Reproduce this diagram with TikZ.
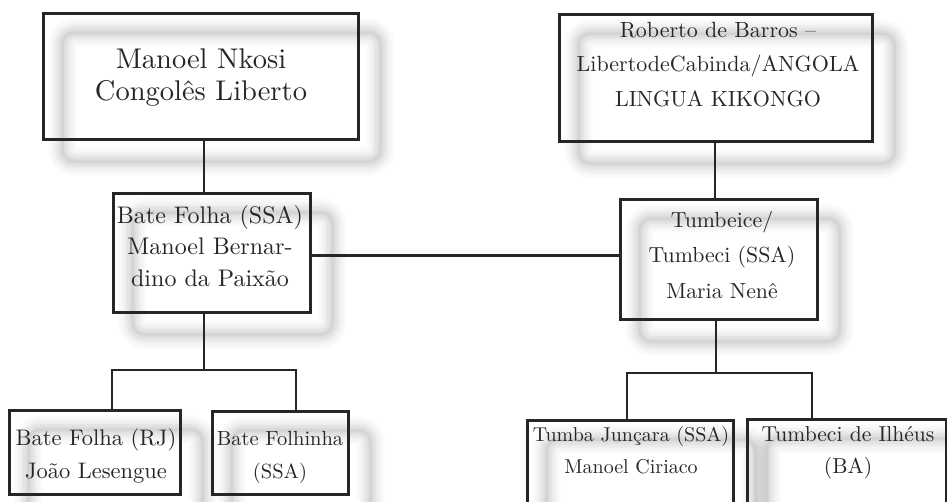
\documentclass[tikz,border=0pt]{standalone}
\usepackage{fontspec}
\setmainfont{lmroman10-regular.otf}
\usetikzlibrary{calc}
\pgfdeclarelayer{bg}
\pgfsetlayers{bg,main}
\newcommand\glowframe[1]{%
  \begin{pgfonlayer}{bg}
  \foreach \w/\o in {28/0.02,22/0.025,16/0.03,11/0.035,6/0.035,2.5/0.035}{
    \draw[line width=\w pt, black, draw opacity=\o, rounded corners=12pt]
      ([shift={(21pt,-21pt)}]#1.north west) rectangle ([shift={(21pt,-21pt)}]#1.south east);
  }
  \end{pgfonlayer}}
\tikzset{
  box/.style={draw=black!85, line width=3pt, rectangle, inner sep=0pt, fill=none},
  txt/.style={align=center, anchor=base, inner sep=0pt, text=black!85},
  conn/.style={draw=black!85, line width=2.8pt}
}
\begin{document}
\begin{tikzpicture}[x=1pt,y=-1pt]
\useasboundingbox (0,0) rectangle (947,501);
% boxes
\node[box, minimum width=315pt, minimum height=126pt] (A) at (200.5,76) {};
\node[box, minimum width=313pt, minimum height=127pt] (B) at (715.5,77.5) {};
\node[box, minimum width=197pt, minimum height=119pt] (C) at (211.5,252.5) {};
\node[box, minimum width=197pt, minimum height=120pt] (D) at (718.5,259) {};
\node[box, minimum width=171pt, minimum height=84pt] (E) at (94.5,452) {};
\node[box, minimum width=136pt, minimum height=83pt] (F) at (280,452.5) {};
\node[box, minimum width=206pt, minimum height=120pt] (G) at (630,480) {};
\node[box, minimum width=199pt, minimum height=121pt] (H) at (846.5,479.5) {};
\glowframe{A}\glowframe{B}\glowframe{C}\glowframe{D}
\glowframe{E}\glowframe{F}\glowframe{G}\glowframe{H}
% texts (base = baseline of last line)
\node[txt, font=\fontsize{28.5}{32}\selectfont] (At) at (201,100) {Manoel Nkosi\\Congolês Liberto};
\node[txt, font=\fontsize{22}{34.5}\selectfont] (Bt) at (718,106) {Roberto de Barros --\\LibertodeCabinda/ANGOLA\\LINGUA KIKONGO};
\node[txt, font=\fontsize{24}{31.5}\selectfont] (Ct) at (210,286) {Bate Folha (SSA)\\Manoel Bernar-\\dino da Paixão};
\node[txt, font=\fontsize{21.8}{35.5}\selectfont] (Dt) at (722,298) {Tumbeice/\\Tumbeci (SSA)\\Maria Nenê};
\node[txt, font=\fontsize{22.5}{33}\selectfont] (Et) at (96,478) {Bate Folha (RJ)\\João Lesengue};
\node[txt, font=\fontsize{20.5}{33}\selectfont] (Ft) at (280,478) {Bate Folhinha\\(SSA)};
\node[txt, font=\fontsize{20}{32}\selectfont] (Gt) at (631,473) {Tumba Junçara (SSA)\\Manoel Ciriaco};
\node[txt, font=\fontsize{21.6}{32}\selectfont] (Ht) at (848,473) {Tumbeci de Ilhéus\\(BA)};
% junctions
\coordinate (jC) at (204,370);
\coordinate (eL) at (112,370);
\coordinate (fL) at (296,370);
\coordinate (jD) at (716,373);
\coordinate (gL) at (627,373);
\coordinate (hL) at (812,373);
% connectors
\draw[conn] ([xshift=3.5pt]A.south) -- ([xshift=3.5pt]A.south |- C.north);
\draw[conn] ([yshift=-3pt]C.east) -- ([yshift=-3pt]C.east -| D.west);
\draw[conn] ([xshift=-0.5pt]B.south) -- ([xshift=-0.5pt]B.south |- D.north);
\draw[conn] (C.south -| jC) -- (jC);
\draw[conn] (E.north -| eL) -- (eL) -- (fL) -- (F.north -| fL);
\draw[conn] (D.south -| jD) -- (jD);
\draw[conn] (G.north -| gL) -- (gL) -- (hL) -- (H.north -| hL);
\end{tikzpicture}
\end{document}
